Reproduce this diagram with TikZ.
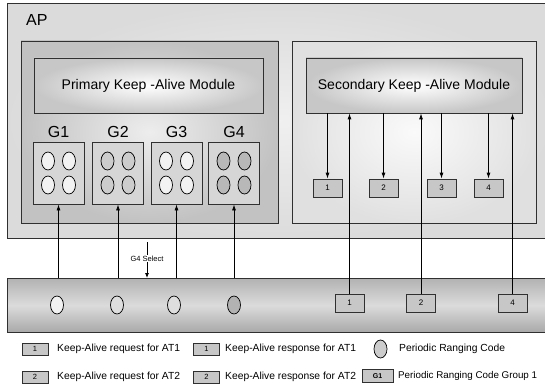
\documentclass[tikz,border=0pt]{standalone}
\usepackage{fontspec}
\setmainfont{Liberation Sans}
\usetikzlibrary{arrows.meta,shapes.geometric}
\definecolor{edge}{HTML}{303030}
\tikzset{
  base/.style={draw=edge, line width=0.8pt, inner sep=0pt, rectangle},
  apbox/.style={base, inner color=white!94!black, outer color=white!86!black},
  pribox/.style={base, inner color=white!93!black, outer color=white!76!black},
  secbox/.style={base, inner color=white!98!black, outer color=white!88!black},
  modbox/.style={base, inner color=white, outer color=white!78!black, font=\fontsize{14}{16}\selectfont},
  gbox/.style={base, fill=white!84!black, minimum width=51pt, minimum height=62pt},
  numbox/.style={base, fill=white!78!black, minimum width=29pt, minimum height=18pt, font=\fontsize{8}{9}\selectfont},
  legbox/.style={base, fill=white!78!black, minimum width=26pt, minimum height=12pt, font=\fontsize{7.5}{8}\selectfont},
  dot/.style={ellipse, draw=black, line width=0.7pt, minimum width=13pt, minimum height=18pt, inner sep=0pt},
  glabel/.style={font=\fontsize{16}{18}\selectfont},
  legtext/.style={anchor=west, inner sep=0pt, font=\fontsize{10.3}{12}\selectfont},
  arr/.style={line width=0.8pt, -{Latex[length=6pt,width=4pt]}},
}
\begin{document}
\begin{tikzpicture}[x=1pt,y=-1pt]
\useasboundingbox (0,0) rectangle (545,390);
\fill[white] (0,0) rectangle (545,390);

% AP outer box
\node[apbox, minimum width=545pt, minimum height=235pt, anchor=north west] (ap) at (7,3) {};
\node[glabel, anchor=west, inner sep=0pt] (aplbl) at (26,20) {AP};

% Primary
\node[pribox, minimum width=257pt, minimum height=182pt] (pri) at (149.5,132) {};
\node[modbox, minimum width=229pt, minimum height=55pt] (pmod) at (148.5,85.5) {Primary Keep -Alive Module};

\foreach \n/\x in {1/58.5,2/118,3/176.5,4/234}{
  \node[glabel] (gl\n) at (\x,132) {G\n};
  \node[gbox] (g\n) at (\x,173) {};
}
\foreach \n/\c in {1/white!95!black,2/white!80!black,3/white!95!black,4/white!72!black}{
  \node[dot, fill=\c] (g\n a) at ([xshift=-10.5pt,yshift=-12pt]g\n.center) {};
  \node[dot, fill=\c] (g\n b) at ([xshift=10.5pt,yshift=-12pt]g\n.center) {};
  \node[dot, fill=\c] (g\n c) at ([xshift=-10.5pt,yshift=12pt]g\n.center) {};
  \node[dot, fill=\c] (g\n d) at ([xshift=10.5pt,yshift=12pt]g\n.center) {};
}

% Secondary
\node[secbox, minimum width=244pt, minimum height=182pt] (sec) at (414,132) {};
\node[modbox, minimum width=216pt, minimum height=55pt] (smod) at (414,85.5) {Secondary Keep -Alive Module};
\foreach \n/\x in {1/327.5,2/383.5,3/441.5,4/488.5}{
  \node[numbox] (s\n) at (\x,188) {\n};
  \draw[arr] (smod.south -| s\n.north) -- (s\n.north);
}

% Bottom bar
\node[base, top color=white!70!black, bottom color=white!66!black, middle color=white!86!black,
      minimum width=545pt, minimum height=54pt, anchor=north west] (bar) at (7,278) {};
\foreach \n/\x/\c in {1/57/white!95!black,2/117/white!87!black,3/174/white!87!black,4/234/white!70!black}{
  \node[dot, fill=\c] (o\n) at (\x,305) {};
}
\foreach \n/\x in {1/349.5,2/421,4/512.5}{
  \node[numbox] (b\n) at (\x,303) {\n};
  \draw[arr] (b\n.north) -- (b\n.north |- smod.south);
}
\foreach \n in {1,2,3,4}{
  \draw[arr] (g\n.south |- bar.north) -- (g\n.south);
}

% G4 select
\coordinate (gstop) at (147,242);
\node[inner sep=0.5pt, font=\fontsize{7.5}{8}\selectfont] (gsel) at (147,258.5) {G4 Select};
\draw[line width=0.7pt] (gstop) -- (gsel.north);
\draw[line width=0.8pt, -{Latex[length=5pt,width=4pt]}] (gsel.south) -- (gsel.south |- bar.north);

% Legend
\node[legbox] (la1) at (35,349) {1};
\node[legtext] (ta1) at (57,349) {Keep-Alive request for AT1};
\node[legbox] (lb1) at (206.5,349) {1};
\node[legtext] (tb1) at (225,349) {Keep-Alive response for AT1};
\node[dot, fill=white!80!black] (lo) at (380.5,349) {};
\node[legtext] (to) at (399,349) {Periodic Ranging Code};

\node[legbox] (la2) at (35,377) {2};
\node[legtext] (ta2) at (57,377) {Keep-Alive request for AT2};
\node[legbox] (lb2) at (206.5,377) {2};
\node[legtext] (tb2) at (225,377) {Keep-Alive response for AT2};
\node[legbox, minimum width=31pt, minimum height=13pt, font=\bfseries\fontsize{7}{8}\selectfont] (lg) at (377.5,376) {G1};
\node[legtext, font=\fontsize{9.8}{12}\selectfont] (tg) at (398,376) {Periodic Ranging Code Group 1};
\end{tikzpicture}
\end{document}
